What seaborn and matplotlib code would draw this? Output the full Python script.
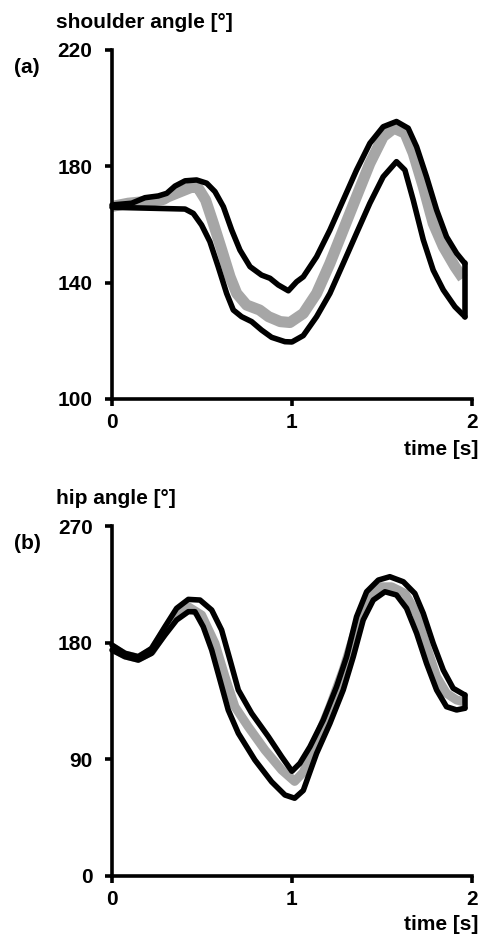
import matplotlib
matplotlib.use("Agg")
import matplotlib.pyplot as plt
import seaborn as sns

# ---------------- shoulder (a) ----------------
sh_t_up = [0, 0.109, 0.183, 0.257, 0.304, 0.35, 0.406, 0.47, 0.526, 0.572, 0.619, 0.665,
           0.711, 0.767, 0.831, 0.878, 0.924, 0.98, 1.026, 1.063, 1.137, 1.211, 1.285,
           1.359, 1.433, 1.507, 1.581, 1.646, 1.693, 1.748, 1.804, 1.859, 1.915, 1.961]
sh_up = [166.7, 167.3, 169.2, 169.8, 170.7, 173.2, 175.0, 175.3, 174.2, 171.3, 166.1, 158.1,
         151.2, 145.5, 142.6, 141.5, 139.2, 137.2, 140.3, 142.0, 148.9, 158.1, 168.4,
         178.7, 187.9, 193.6, 195.4, 193.1, 186.7, 176.4, 165.0, 155.8, 150.1, 146.6]

sh_t_lo = [0, 0.406, 0.452, 0.498, 0.544, 0.59, 0.637, 0.674, 0.72, 0.776, 0.831, 0.887,
           0.961, 1.0, 1.063, 1.137, 1.211, 1.285, 1.359, 1.433, 1.507, 1.581, 1.628,
           1.674, 1.73, 1.785, 1.841, 1.906, 1.961]
sh_lo = [165.9, 165.3, 163.8, 159.8, 154.1, 145.5, 136.3, 130.6, 128.3, 126.6, 123.7, 121.2,
         119.7, 119.6, 121.8, 128.3, 136.3, 146.6, 157.0, 167.3, 176.4, 181.6, 178.7,
         168.4, 154.7, 144.3, 137.5, 131.7, 128.3]

sh_t_gray = [0, 0.09, 0.2, 0.285, 0.31, 0.35, 0.45, 0.48, 0.52, 0.563, 0.61, 0.656,
             0.693, 0.748, 0.82, 0.87, 0.935, 0.989, 1.063, 1.137, 1.211, 1.285, 1.359,
             1.433, 1.507, 1.567, 1.628, 1.674, 1.73, 1.785, 1.841, 1.906, 1.95]
sh_gray = [166.2, 167.3, 168.0, 168.6, 169.5, 170.5, 173.0, 172.4, 168.4, 160.4, 151.2, 142.0,
           136.3, 132.3, 130.6, 128.3, 126.6, 126.3, 129.4, 136.3, 146.6, 158.1, 169.6,
           181.0, 190.2, 193.1, 191.4, 184.5, 173.0, 160.4, 152.4, 145.5, 141.5]

# ---------------- hip (b) ----------------
hip_t_up = [0, 0.072, 0.146, 0.22, 0.294, 0.359, 0.424, 0.489, 0.554, 0.609, 0.656, 0.702,
            0.776, 0.869, 0.943, 1.0, 1.044, 1.1, 1.174, 1.248, 1.304, 1.359, 1.415,
            1.48, 1.544, 1.619, 1.683, 1.73, 1.785, 1.841, 1.896, 1.961]
hip_up = [178.2, 171.8, 169.2, 175.6, 192.3, 206.5, 213.4, 212.9, 205.2, 189.8, 166.6, 143.5,
          125.5, 107.5, 92.0, 80.8, 86.9, 99.7, 120.3, 146.0, 169.2, 200.0, 219.3,
          228.3, 230.9, 227.0, 218.0, 202.6, 179.5, 158.9, 144.8, 139.6]

hip_t_lo = [0, 0.072, 0.146, 0.22, 0.294, 0.359, 0.424, 0.461, 0.507, 0.554, 0.6, 0.646,
            0.702, 0.794, 0.887, 0.961, 1.015, 1.063, 1.137, 1.211, 1.285, 1.341, 1.396,
            1.452, 1.517, 1.581, 1.637, 1.693, 1.748, 1.804, 1.859, 1.915, 1.961]
hip_lo = [174.3, 169.2, 166.6, 171.8, 185.9, 197.5, 203.9, 203.9, 192.3, 174.3, 151.2, 128.0,
          110.1, 89.5, 72.7, 62.5, 60.0, 66.0, 94.6, 117.7, 143.5, 169.2, 197.5,
          212.9, 219.3, 216.8, 206.5, 187.2, 164.0, 143.5, 130.6, 128.1, 129.4]

hip_t_gray = [0, 0.072, 0.146, 0.22, 0.294, 0.359, 0.424, 0.498, 0.572, 0.628, 0.683, 0.757,
              0.85, 0.943, 1.015, 1.063, 1.137, 1.211, 1.285, 1.359, 1.43, 1.489, 1.554,
              1.628, 1.693, 1.748, 1.804, 1.859, 1.915, 1.952]
hip_gray = [176.0, 170.5, 168.0, 173.5, 189.0, 202.0, 207.7, 201.3, 179.5, 153.8, 130.6, 115.2,
            97.2, 81.8, 73.0, 80.0, 104.9, 130.6, 158.9, 192.3, 214.1, 223.1, 223.1,
            218.0, 202.6, 176.9, 153.7, 140.9, 135.8, 134.5]

sns.set_style("ticks")
plt.rcParams["font.family"] = ["Liberation Sans", "DejaVu Sans"]
plt.rcParams["font.weight"] = "bold"
plt.rcParams["text.color"] = "black"
plt.rcParams["axes.edgecolor"] = "black"
plt.rcParams["xtick.color"] = "black"
plt.rcParams["ytick.color"] = "black"
plt.rcParams["xtick.labelcolor"] = "black"
plt.rcParams["ytick.labelcolor"] = "black"

fig = plt.figure(figsize=(4.82, 9.39), dpi=100)
ax1 = fig.add_axes([0.2324, 0.5751, 0.7466, 0.3717])
ax2 = fig.add_axes([0.2324, 0.0671, 0.7466, 0.3727])

GRAY = "#a6a6a6"
FS = 15


def panel(ax, t_up, up, t_lo, lo, t_g, gray, gray_lw, ylim, yticks, ylabel, tag, time_y):
    sns.lineplot(x=t_g, y=gray, ax=ax, color=GRAY, linewidth=gray_lw, sort=False,
                 estimator=None, solid_capstyle="butt", solid_joinstyle="round")
    for tt, yy in ((t_up, up), (t_lo, lo)):
        sns.lineplot(x=tt, y=yy, ax=ax, color="black", linewidth=4.0, sort=False,
                     estimator=None, solid_capstyle="round", solid_joinstyle="round")
    # closing segment at the end of the cycle
    ax.plot([t_up[-1], t_lo[-1]], [up[-1], lo[-1]], color="black", linewidth=4.0,
            solid_capstyle="round")

    ax.set_xlim(0, 2)
    ax.set_ylim(*ylim)
    ax.set_xticks([0, 1, 2])
    ax.set_xticklabels(["0", "1", "2"])
    ax.set_yticks(yticks)
    sns.despine(ax=ax)
    for s in ("left", "bottom"):
        ax.spines[s].set_linewidth(2.6)
        ax.spines[s].set_color("black")
        ax.spines[s].set_capstyle("projecting")
    ax.tick_params(axis="both", width=2.6, length=5, labelsize=FS, colors="black")
    ax.tick_params(axis="y", pad=9)
    ax.tick_params(axis="x", pad=5)
    for lab in ax.get_xticklabels() + ax.get_yticklabels():
        lab.set_fontweight("bold")
    ax.set_xlabel("")
    ax.set_ylabel("")
    ax.text(-0.156, 1.062, ylabel, transform=ax.transAxes, fontsize=FS,
            fontweight="bold", ha="left", va="baseline", color="black")
    ax.text(-0.236, 0.95, tag, transform=ax.transAxes, fontsize=FS,
            fontweight="bold", ha="center", va="center", color="black")
    ax.text(1.017, time_y, "time [s]", transform=ax.transAxes, fontsize=FS,
            fontweight="bold", ha="right", va="center", color="black")
    for ln in ax.get_lines():
        ln.set_clip_on(False)


panel(ax1, sh_t_up, sh_up, sh_t_lo, sh_lo, sh_t_gray, sh_gray, 8.0,
      (100, 220), [100, 140, 180, 220], "shoulder angle [°]", "(a)", -0.146)
panel(ax2, hip_t_up, hip_up, hip_t_lo, hip_lo, hip_t_gray, hip_gray, 6.5,
      (0, 270), [0, 90, 180, 270], "hip angle [°]", "(b)", -0.14)

fig.savefig("out.png", dpi=100)
